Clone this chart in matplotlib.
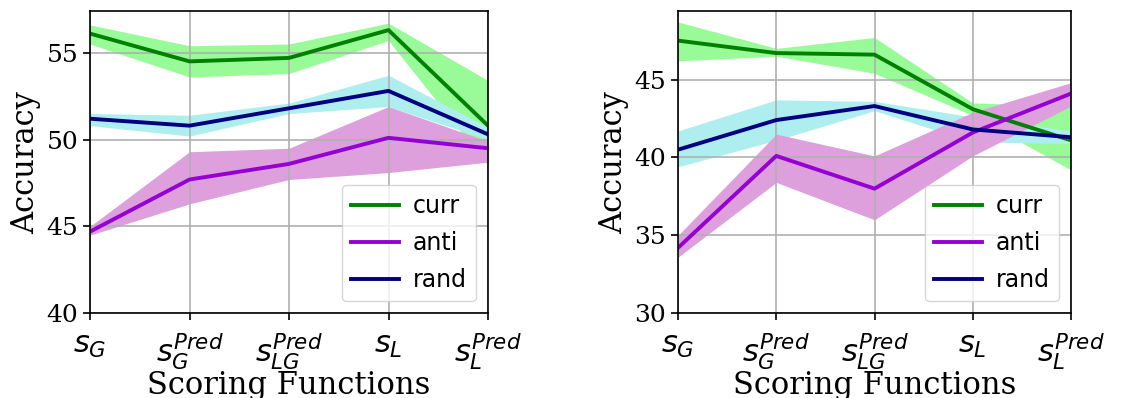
import numpy as np
import matplotlib
matplotlib.use("Agg")
import matplotlib.pyplot as plt

# ── Daten ────────────────────────────────────────────────────────────────────

SCORING = [r"$s_G$", r"$s_G^{Pred}$", r"$s_{LG}^{Pred}$", r"$s_L$", r"$s_L^{Pred}$"]

# linkes Panel
L_CURR     = [56.1, 54.5, 54.7, 56.3, 50.8]
L_CURR_LO  = [55.5, 53.6, 53.8, 55.7, 48.5]
L_CURR_HI  = [56.6, 55.4, 55.5, 56.7, 53.4]
L_ANTI     = [44.7, 47.7, 48.6, 50.1, 49.5]
L_ANTI_LO  = [44.5, 46.3, 47.7, 48.1, 48.7]
L_ANTI_HI  = [45.0, 49.3, 49.5, 51.9, 49.9]
L_RAND     = [51.2, 50.8, 51.8, 52.8, 50.3]
L_RAND_LO  = [50.8, 50.2, 51.5, 51.9, 50.0]
L_RAND_HI  = [51.5, 51.4, 52.1, 53.7, 50.7]

# rechtes Panel
R_CURR     = [47.5, 46.7, 46.6, 43.1, 41.1]
R_CURR_LO  = [46.2, 46.5, 45.4, 42.7, 39.2]
R_CURR_HI  = [48.7, 47.0, 47.7, 43.5, 43.3]
R_ANTI     = [34.2, 40.1, 38.0, 41.6, 44.1]
R_ANTI_LO  = [33.6, 38.4, 36.0, 40.1, 43.3]
R_ANTI_HI  = [35.0, 41.5, 40.1, 42.9, 44.8]
R_RAND     = [40.5, 42.4, 43.3, 41.8, 41.3]
R_RAND_LO  = [39.4, 41.1, 43.0, 41.0, 40.9]
R_RAND_HI  = [41.7, 43.7, 43.6, 42.6, 41.7]

# ── Plot ─────────────────────────────────────────────────────────────────────

COLORS = {"curr": ("green", "palegreen"),
          "anti": ("darkviolet", "plum"),
          "rand": ("navy", "paleturquoise")}


def draw_panel(ax, series, ylim, yticks):
    x = np.arange(len(SCORING))
    # Baender: curr, rand, anti
    for name in ["curr", "rand", "anti"]:
        _, lo, hi = series[name]
        ax.fill_between(x, lo, hi, color=COLORS[name][1], linewidth=0)
    for name in ["curr", "anti", "rand"]:
        mean, _, _ = series[name]
        ax.plot(x, mean, color=COLORS[name][0], linewidth=2.8, label=name)

    ax.set_xlim(0, len(SCORING) - 1)
    ax.set_ylim(*ylim)
    ax.set_yticks(yticks)
    ax.set_xticks(x)
    ax.set_xticklabels(SCORING, fontsize=22)
    for lab in ax.get_yticklabels():
        lab.set_fontfamily("DejaVu Serif")
        lab.set_fontsize(18)
    ax.tick_params(length=5, width=1.2)
    ax.tick_params(axis="x", pad=8)
    ax.grid(True, color="#b0b0b0", linewidth=1.2)
    for spine in ax.spines.values():
        spine.set_linewidth(1.2)
    ax.set_ylabel("Accuracy", fontsize=22, family="DejaVu Serif", labelpad=4)
    ax.set_xlabel("Scoring Functions", fontsize=22, family="DejaVu Serif", labelpad=-1)
    ax.legend(loc="lower right", fontsize=17, handletextpad=0.6, labelspacing=0.55)


fig = plt.figure(figsize=(11.46, 3.98), dpi=100)
ax1 = fig.add_axes([90 / 1146, 1 - 313.3 / 398, 398 / 1146, 302.3 / 398])
ax2 = fig.add_axes([678 / 1146, 1 - 313.3 / 398, 393 / 1146, 302.3 / 398])

draw_panel(ax1, {"curr": (L_CURR, L_CURR_LO, L_CURR_HI),
                 "anti": (L_ANTI, L_ANTI_LO, L_ANTI_HI),
                 "rand": (L_RAND, L_RAND_LO, L_RAND_HI)},
           (40, 57.4), [40, 45, 50, 55])
draw_panel(ax2, {"curr": (R_CURR, R_CURR_LO, R_CURR_HI),
                 "anti": (R_ANTI, R_ANTI_LO, R_ANTI_HI),
                 "rand": (R_RAND, R_RAND_LO, R_RAND_HI)},
           (30, 49.4), [30, 35, 40, 45])

fig.savefig("out.png", dpi=100)
